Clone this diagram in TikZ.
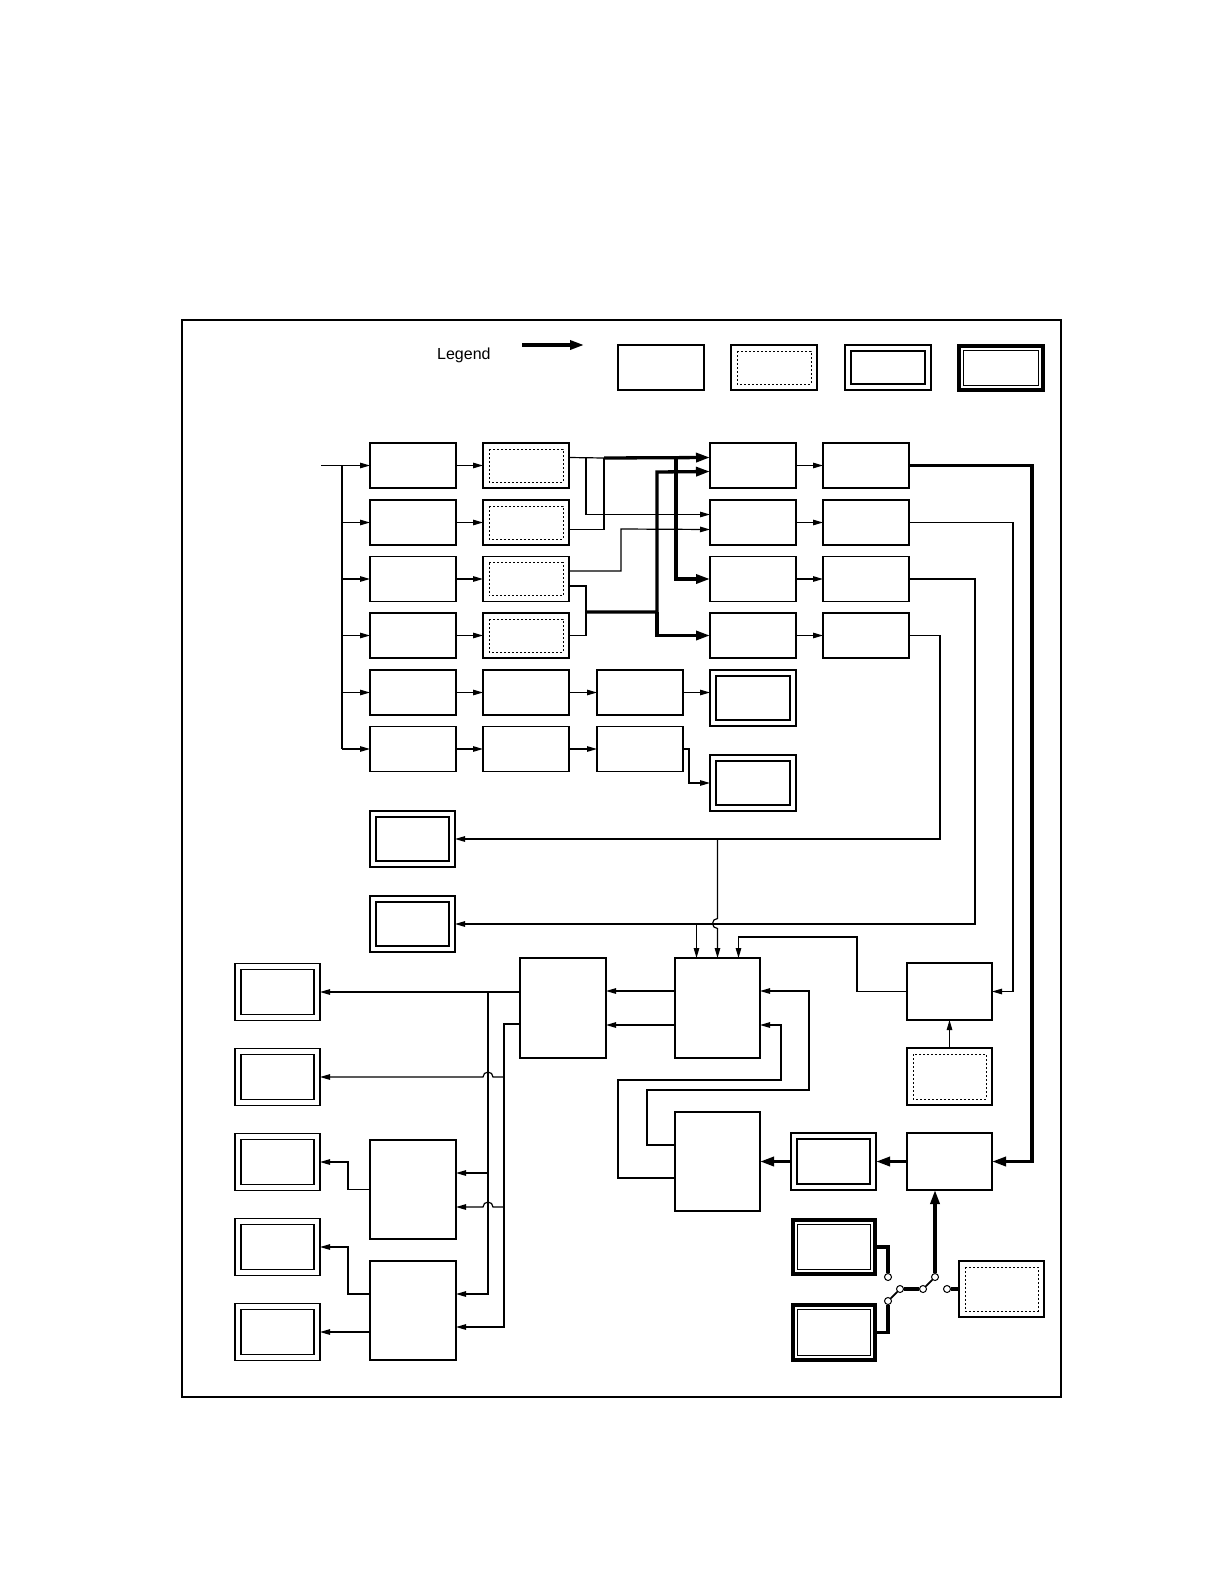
\documentclass[tikz,border=0pt]{standalone}
\usepackage{fontspec}
\setmainfont{Liberation Sans}
\usetikzlibrary{arrows.meta}
\begin{document}
\begin{tikzpicture}[x=1pt,y=-1pt,
  bx/.style={draw, line width=1.3pt, inner sep=0pt, outer sep=0pt, anchor=north west, minimum width=86pt, minimum height=45pt},
  dbl/.style={bx, path picture={\draw[line width=1.3pt] ([shift={(6pt,-6pt)}]path picture bounding box.north west) rectangle ([shift={(-6pt,6pt)}]path picture bounding box.south east);}},
  dotb/.style={bx, path picture={\draw[line width=1pt, dash pattern=on 2pt off 2pt] ([shift={(6pt,-6pt)}]path picture bounding box.north west) rectangle ([shift={(-6pt,6pt)}]path picture bounding box.south east);}},
  thk/.style={bx, line width=3.8pt, path picture={\draw[line width=1.3pt] ([shift={(4.5pt,-4.5pt)}]path picture bounding box.north west) rectangle ([shift={(-4.5pt,4.5pt)}]path picture bounding box.south east);}},
  ln/.style={line width=1.2pt},
  arr/.style={line width=1.2pt, -{Triangle[length=10pt,width=5.5pt]}},
  tarr/.style={line width=3.3pt, -{Triangle[length=14pt,width=9pt]}},
  twire/.style={line width=3.2pt},
  dwire/.style={line width=1.8pt},
  term/.style={circle, draw, fill=white, line width=1pt, inner sep=0pt, minimum size=7pt}
]
\useasboundingbox (0,0) rectangle (1224,1584);
\draw[line width=2pt] (182,320) rectangle (1061,1397);

% legend
\node[anchor=base west, inner sep=0pt, font=\fontsize{16}{18}\selectfont] (leg) at (437,359) {Legend};
\coordinate (la1) at (522,345);
\coordinate (la2) at (584,345);
\draw[tarr] (la1) -- (la2);
\node[bx] (L1) at (618,345) {};
\node[dotb] (L2) at (731,345) {};
\node[dbl] (L3) at (845,345) {};
\node[thk, minimum width=84pt, minimum height=44pt] (L4) at (959,346) {};

% rows 1-6
\node[bx] (a1) at (370,443) {};
\node[bx] (a2) at (370,500) {};
\node[bx] (a3) at (370,556.5) {};
\node[bx] (a4) at (370,613) {};
\node[bx] (a5) at (370,670) {};
\node[bx] (a6) at (370,726.5) {};
\node[dotb] (b1) at (483,443) {};
\node[dotb] (b2) at (483,500) {};
\node[dotb] (b3) at (483,556.5) {};
\node[dotb] (b4) at (483,613) {};
\node[bx] (b5) at (483,670) {};
\node[bx] (b6) at (483,726.5) {};
\node[bx] (c5) at (597,670) {};
\node[bx] (c6) at (597,726.5) {};
\node[dbl, minimum height=56pt] (d5) at (710,670) {};
\node[dbl, minimum height=56pt] (d6) at (710,755) {};
\node[bx] (e1) at (710,443) {};
\node[bx] (e2) at (710,500) {};
\node[bx] (e3) at (710,556.5) {};
\node[bx] (e4) at (710,613) {};
\node[bx] (f1) at (823,443) {};
\node[bx] (f2) at (823,500) {};
\node[bx] (f3) at (823,556.5) {};
\node[bx] (f4) at (823,613) {};

\node[dbl, minimum width=85pt, minimum height=56pt] (g1) at (370,811) {};
\node[dbl, minimum width=85pt, minimum height=56pt] (g2) at (370,896) {};

% lower part
\node[dbl, minimum width=85pt, minimum height=57pt] (h1) at (235,963.5) {};
\node[dbl, minimum width=85pt, minimum height=57pt] (h2) at (235,1048.5) {};
\node[dbl, minimum width=85pt, minimum height=57pt] (h3) at (235,1133.5) {};
\node[dbl, minimum width=85pt, minimum height=57pt] (h4) at (235,1218.5) {};
\node[dbl, minimum width=85pt, minimum height=57pt] (h5) at (235,1303.5) {};
\node[bx, minimum height=100pt] (m1) at (520,958) {};
\node[bx, minimum width=85pt, minimum height=100pt] (cen) at (675,958) {};
\node[bx, minimum width=85pt, minimum height=99pt] (bot) at (675,1112) {};
\node[bx, minimum height=99pt] (k1) at (370,1140) {};
\node[bx, minimum height=99pt] (k2) at (370,1261) {};
\node[bx, minimum width=85pt, minimum height=57pt] (r) at (907,963) {};
\node[dotb, minimum width=85pt, minimum height=57pt] (rd) at (907,1048) {};
\node[bx, minimum width=85pt, minimum height=57pt] (rb) at (907,1133) {};
\node[dbl, minimum width=85pt, minimum height=57pt] (db) at (791,1133) {};
\node[thk, minimum width=82pt, minimum height=54pt] (tA) at (793,1220) {};
\node[thk, minimum width=82pt, minimum height=55pt] (tB) at (793,1305) {};
\node[dotb, minimum width=85pt, minimum height=56pt] (sd) at (959,1261) {};

% input and bus
\coordinate (in) at (321,465.5);
\coordinate (bus) at (342,465.5);
\draw[arr] (in) -- (a1.west);
\draw[ln] (bus) -- (bus |- a6.west);
\foreach \n in {a2,a3,a4,a5,a6} { \draw[arr] (bus |- \n.west) -- (\n.west); }
\foreach \p/\q in {a1/b1,a2/b2,a3/b3,a4/b4,a5/b5,a6/b6,b5/c5,b6/c6,e1/f1,e2/f2,e3/f3,e4/f4} { \draw[arr] (\p) -- (\q); }
\draw[arr] (c5.east) -- (c5.east -| d5.west);
\draw[arr] (c6.east) -- ++(6,0) |- (d6.west);

% column 2 outputs
\coordinate (j1) at (586,458);
\coordinate (j2) at (604,458);
\draw[ln] ([yshift=8pt]b1.east) -- (j2);
\draw[ln] ([yshift=-7pt]b2.east) -| (j2);
\draw[tarr] (j2) -- ([yshift=8pt]e1.west);
\draw[arr] (j1) |- ([yshift=8pt]e2.west);
\draw[tarr] (676,458) |- (e3.west);
\draw[arr] ([yshift=8pt]b3.east) -| (621,529) -- ([yshift=-7pt]e2.west);
\draw[ln] ([yshift=-7pt]b3.east) -| ([xshift=17pt]b4.east) -- (b4.east);
\draw[tarr] (586,612) -| (657,472) -- ([yshift=-6pt]e1.west);
\draw[tarr] (657,612) |- (e4.west);

% column 4 outputs
\draw[tarr] (f1.east) -- ++(123,0) |- (rb.east);
\draw[arr] (f2.east) -- ++(104,0) |- (r.east);
\draw[arr] (f3.east) -- ++(66,0) |- (g2.east);
\draw[arr] (f4.east) -- ++(31,0) |- (g1.east);

% into central box
\draw[arr] (cen.north |- g1.east) -- ++(0,79.5) arc[start angle=90,end angle=270,radius=5pt] -- (cen.north);
\draw[arr] ([xshift=-21pt]cen.north |- g2.east) -- ([xshift=-21pt]cen.north);
\draw[arr] (r.west) -- ++(-50,0) |- (738.5,937) -- ([xshift=21pt]cen.north);
\draw[arr] (rd) -- (r);
\draw[arr] ([yshift=17pt]cen.west) -- ([yshift=17pt]m1.east);
\draw[arr] ([yshift=-17pt]cen.west) -- ([yshift=-17pt]m1.east);
\draw[arr] ([yshift=16.5pt]bot.west) -- ++(-28,0) |- (809,1090) |- ([yshift=17pt]cen.east);
\draw[arr] ([yshift=-16.5pt]bot.west) -- ++(-57,0) |- (781,1080) |- ([yshift=-17pt]cen.east);

% bottom thick chain
\draw[tarr] (rb) -- (db);
\draw[tarr] (db) -- (bot);

% switch
\node[term] (s1) at (888,1277) {};
\node[term] (s2) at (888,1301) {};
\node[term] (s3) at (900,1289) {};
\node[term] (s4) at (923,1289) {};
\node[term] (s5) at (935,1277) {};
\node[term] (s6) at (947,1289) {};
\draw[twire] (tA.east) -| (s1);
\draw[twire] (tB.east) -| (s2);
\draw[dwire] (s2) -- (s3);
\draw[twire] (s3) -- (s4);
\draw[dwire] (s4) -- (s5);
\draw[tarr] (s5) -- (s5 |- rb.south);
\draw[twire] (s6) -- (sd.west);

% left buses
\coordinate (bA) at (488,992);
\coordinate (bB) at (504,1024);
\draw[arr] ([yshift=16pt]m1.west) -- (h1.east);
\draw[arr] ([yshift=-16pt]m1.west) -- (bB) -- (504,1327) -- ([yshift=-16.5pt]k2.east);
\draw[arr] (bA) -- (488,1294) -- ([yshift=16.5pt]k2.east);
\draw[arr] (488,1173) -- ([yshift=16.5pt]k1.east);
\draw[arr] (504,1207) -- (493,1207) arc[start angle=0,end angle=180,radius=5pt] -- ([yshift=-17.5pt]k1.east);
\draw[arr] (504,1077) -- (493,1077) arc[start angle=0,end angle=180,radius=5pt] -- (h2.east);
\draw[arr] (k1.west) -- ++(-22,0) |- (h3.east);
\draw[arr] ([yshift=16.5pt]k2.west) -- ++(-22,0) |- (h4.east);
\draw[arr] (h5.east -| k2.west) -- (h5.east);
\end{tikzpicture}
\end{document}
